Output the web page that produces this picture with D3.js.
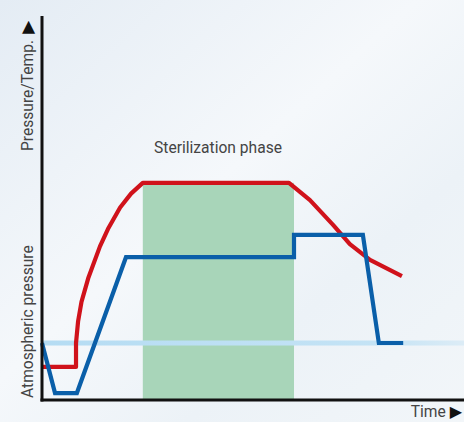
<!DOCTYPE html>
<html><head><meta charset="utf-8">
<script src="https://cdn.jsdelivr.net/npm/d3@7"></script>
<style>html,body{margin:0;padding:0;background:#fff}svg{display:block}</style>
</head><body>
<script>
// ---- data (abstract units: time 0..100, level 0..100) ----
const pressureTime  = [0, 3.1, 8.3, 20, 60, 60, 76.4, 80.2, 86];
const pressureValue = [14.8, 1.8, 1.8, 37.1, 37.1, 42.9, 42.9, 14.8, 14.8];
const tempTime  = [0, 8.1, 8.1, 8.6, 9.4, 11.0, 13.8, 15.7, 18.6, 21.2, 24.0, 58.8, 63.8, 69.3, 73.3, 78.1, 85.7];
const tempValue = [8.6, 8.6, 14.8, 20.5, 25.5, 31.6, 39.9, 44.4, 50.0, 53.6, 56.4, 56.4, 51.9, 45.5, 40.5, 36.4, 32.2];
const phaseStart = 24.0, phaseEnd = 60, phaseTop = 56.4;
const atmospheric = 14.8;
const labels = {phase: "Sterilization phase", x: "Time", y: "Pressure/Temp.", atm: "Atmospheric pressure", arrow: "▶"};

const W = 464, H = 422;
const svg = d3.select("body").append("svg").attr("width", W).attr("height", H);
const defs = svg.append("defs");
const g1 = defs.append("linearGradient").attr("id","bg").attr("x1","0").attr("y1","0").attr("x2","1").attr("y2","1");
g1.append("stop").attr("offset","0").attr("stop-color","#e4ecf4");
g1.append("stop").attr("offset","0.45").attr("stop-color","#f5f8fb");
g1.append("stop").attr("offset","0.7").attr("stop-color","#ecf2f7");
g1.append("stop").attr("offset","1").attr("stop-color","#f2f6f9");
svg.append("rect").attr("width",W).attr("height",H).attr("fill","url(#bg)");
const g2 = defs.append("linearGradient").attr("id","atm").attr("x1","0").attr("x2","1");
g2.append("stop").attr("offset","0").attr("stop-color","#b5dcf3");
g2.append("stop").attr("offset","0.8").attr("stop-color","#c4e3f5");
g2.append("stop").attr("offset","1").attr("stop-color","#dcecf6");

const x = d3.scaleLinear().domain([0,100]).range([42,462]);
const y = d3.scaleLinear().domain([0,100]).range([400,15]);

// phase rect
svg.append("rect").attr("x",x(phaseStart)).attr("y",y(phaseTop))
  .attr("width",x(phaseEnd)-x(phaseStart)).attr("height",y(0)-y(phaseTop))
  .attr("fill","#a8d5b9");

// atmospheric line
svg.append("rect").attr("x",x(0)).attr("y",y(atmospheric)-2.5)
  .attr("width",W-x(0)).attr("height",5).attr("fill","url(#atm)");

const line = d3.line().x(d=>x(d[0])).y(d=>y(d[1]));
svg.append("path").datum(tempTime.map((t,i)=>[t,tempValue[i]]))
  .attr("d", line).attr("fill","none").attr("stroke","#d0121b").attr("stroke-width",4.2).attr("stroke-linejoin","round");
svg.append("path").datum(pressureTime.map((t,i)=>[t,pressureValue[i]]))
  .attr("d", line).attr("fill","none").attr("stroke","#0a5fa9").attr("stroke-width",4.2).attr("stroke-linejoin","miter");

// axes
svg.append("line").attr("x1",x(0)).attr("x2",x(0)).attr("y1",y(100)+1).attr("y2",y(0)+1.5)
  .attr("stroke","#111").attr("stroke-width",3);
svg.append("line").attr("x1",x(0)-1.5).attr("x2",W).attr("y1",y(0)).attr("y2",y(0))
  .attr("stroke","#111").attr("stroke-width",3);

const font = "Roboto, 'Noto Sans', 'DejaVu Sans', sans-serif";
svg.append("text").attr("x",218).attr("y",153).attr("text-anchor","middle")
  .attr("font-family",font).attr("font-size",15.6).attr("fill","#444").text(labels.phase);

const tx = svg.append("text").attr("x",462).attr("y",417).attr("text-anchor","end")
  .attr("font-family",font).attr("font-size",15.6).attr("fill","#444");
tx.append("tspan").text(labels.x);
tx.append("tspan").attr("dx",4).attr("font-size",16).attr("font-family","'DejaVu Sans'").attr("fill","#111").text(labels.arrow);

const ty = svg.append("text").attr("transform","translate(33,151) rotate(-90)").attr("text-anchor","start")
  .attr("font-family",font).attr("font-size",15.6).attr("fill","#444");
ty.append("tspan").text(labels.y);
ty.append("tspan").attr("dx",6).attr("font-size",17).attr("font-family","'DejaVu Sans'").attr("fill","#111").text(labels.arrow);

svg.append("text").attr("transform","translate(33,398) rotate(-90)").attr("text-anchor","start")
  .attr("font-family",font).attr("font-size",15.6).attr("fill","#444").text(labels.atm);
</script>
</body></html>
